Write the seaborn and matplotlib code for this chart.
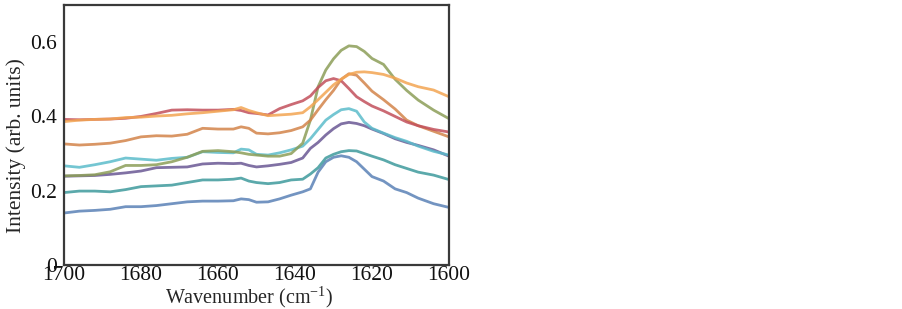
import matplotlib
matplotlib.use("Agg")
import matplotlib.pyplot as plt
import pandas as pd
import seaborn as sns

# wavenumber grid (cm-1) the curves were read at
wavenumber = [1700, 1696, 1692, 1688, 1684, 1680, 1676, 1672, 1668, 1664, 1660, 1656, 1654,
              1652, 1650, 1647, 1644, 1641, 1638, 1636, 1634, 1632, 1630, 1628, 1626, 1624,
              1622, 1620, 1617, 1614, 1611, 1608, 1604, 1600]

blue = [.140, .145, .147, .150, .157, .157, .160, .165, .170, .172, .172, .173, .178,
        .176, .169, .170, .178, .188, .197, .205, .250, .278, .290, .294, .290, .278,
        .258, .238, .226, .205, .195, .180, .165, .155]
teal = [.195, .199, .199, .197, .203, .211, .213, .215, .222, .229, .229, .231, .234,
        .226, .222, .219, .222, .229, .231, .245, .262, .288, .298, .305, .308, .307,
        .300, .293, .283, .270, .260, .250, .242, .230]
purple = [.239, .240, .241, .244, .248, .253, .262, .263, .264, .272, .274, .273, .274,
          .268, .264, .267, .271, .276, .288, .314, .330, .350, .367, .380, .384, .381,
          .375, .366, .354, .340, .330, .322, .310, .293]
cyan = [.267, .263, .270, .278, .288, .285, .282, .287, .290, .305, .303, .302, .312,
        .310, .298, .296, .302, .310, .320, .340, .365, .390, .405, .418, .421, .414,
        .385, .368, .355, .343, .333, .320, .306, .296]
olive = [.240, .241, .243, .251, .268, .268, .270, .278, .290, .306, .308, .305, .302,
         .298, .296, .293, .293, .300, .328, .390, .480, .525, .555, .578, .590, .588,
         .575, .556, .540, .500, .470, .444, .417, .394]
brown = [.326, .323, .325, .328, .335, .345, .348, .347, .352, .368, .366, .366, .372,
         .368, .355, .353, .356, .362, .372, .390, .418, .445, .470, .500, .515, .511,
         .490, .468, .445, .420, .390, .375, .360, .345]
red = [.392, .391, .392, .393, .395, .400, .408, .417, .418, .417, .417, .419, .416,
       .410, .408, .404, .421, .432, .442, .455, .478, .496, .502, .496, .475, .453,
       .440, .428, .415, .400, .385, .375, .365, .358]
orange = [.386, .390, .392, .393, .397, .398, .401, .403, .407, .410, .414, .418, .424,
          .416, .410, .402, .404, .406, .410, .426, .445, .465, .485, .500, .513, .519,
          .520, .518, .513, .503, .490, .480, .471, .453]

series = {"blue": blue, "teal": teal, "purple": purple, "cyan": cyan,
          "olive": olive, "brown": brown, "red": red, "orange": orange}
palette = {"blue": "#5b82b6", "teal": "#3e9a9c", "purple": "#6a5894", "cyan": "#5cbccb",
           "olive": "#8c9e58", "brown": "#d3844a", "red": "#c2505c", "orange": "#f3a552"}

long = pd.concat([pd.DataFrame({"wn": wavenumber, "intensity": v, "sample": k})
                  for k, v in series.items()], ignore_index=True)

sns.set_style("white")
plt.rcParams["font.family"] = ["Liberation Serif", "DejaVu Serif"]
plt.rcParams["mathtext.fontset"] = "custom"
plt.rcParams["mathtext.rm"] = "Liberation Serif"

fig = plt.figure(figsize=(9.02, 3.09), dpi=100)
ax = fig.add_axes([64 / 902, 1 - 265 / 309, 385 / 902, 260 / 309])

sns.lineplot(data=long, x="wn", y="intensity", hue="sample", palette=palette,
             linewidth=2, alpha=0.85, legend=False, ax=ax)

ax.set_xlim(1700, 1600)
ax.set_ylim(0, 0.7)
ax.set_xticks([1700, 1680, 1660, 1640, 1620, 1600])
ax.set_yticks([0, 0.2, 0.4, 0.6])
ax.set_yticklabels(["0", "0.2", "0.4", "0.6"])
ax.tick_params(direction="in", length=5, width=1, color="#b0b0b0",
               labelsize=15.5, labelcolor="#111111")
ax.tick_params(axis="x", pad=0.5)
ax.tick_params(axis="y", pad=5)
for s in ax.spines.values():
    s.set_color("#3a3a3a")
    s.set_linewidth(1.6)

ax.set_xlabel("Wavenumber (cm$^{\\mathregular{-1}}$)", fontsize=14.5)
ax.set_ylabel("Intensity (arb. units)", fontsize=15.5)
ax.xaxis.set_label_coords(0.48, -0.072)
ax.yaxis.set_label_coords(-0.098, 0.46)

fig.savefig("out.png", dpi=100, facecolor="white")
plt.close(fig)
